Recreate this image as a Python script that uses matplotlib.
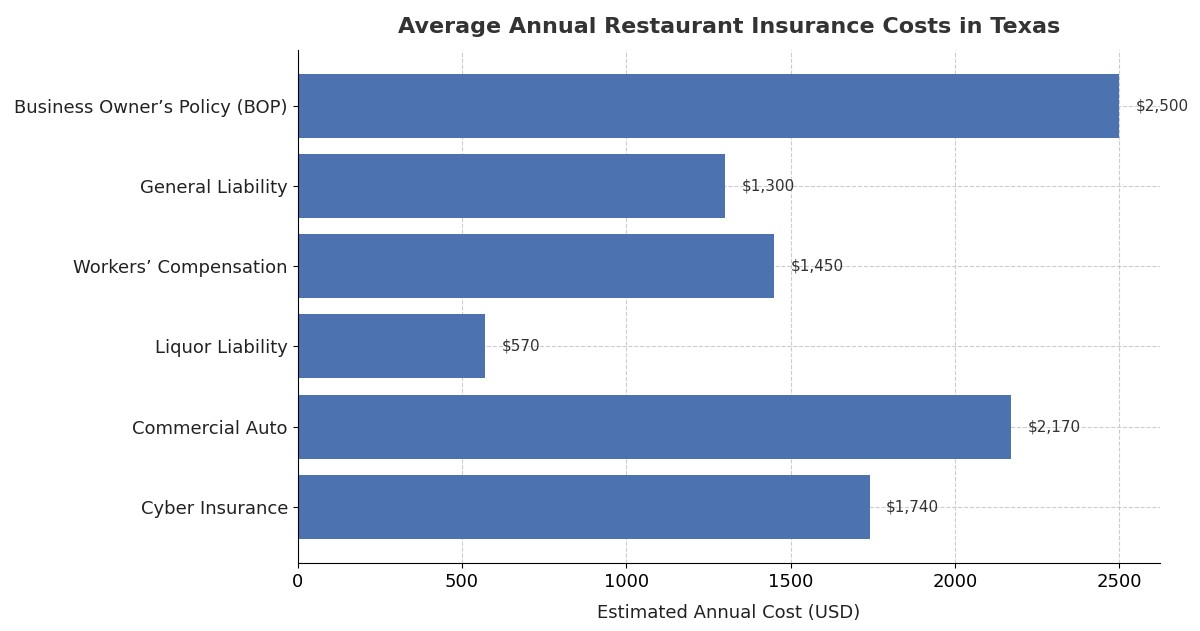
import matplotlib
matplotlib.use("Agg")
import matplotlib.pyplot as plt

categories = ["Business Owner’s Policy (BOP)", "General Liability", "Workers’ Compensation",
              "Liquor Liability", "Commercial Auto", "Cyber Insurance"]
costs = [2500, 1300, 1450, 570, 2170, 1740]

fig = plt.figure(figsize=(12, 6.31), dpi=100)
ax = fig.add_axes([0.248, 0.108, 0.719, 0.813])
y = list(range(len(categories)))
ax.barh(y, costs, height=0.8, color="#4c72b0", zorder=2)
for yi, v in zip(y, costs):
    ax.text(v + 50, yi, f"${v:,}", va="center", ha="left", fontsize=11, color="#333333")
ax.set_yticks(y)
ax.set_yticklabels(categories, fontsize=13, color="#222222")
ax.set_ylim(len(categories) - 0.3, -0.7)
ax.set_xlim(0, 2625)
ax.tick_params(axis="x", labelsize=13)
ax.set_xlabel("Estimated Annual Cost (USD)", fontsize=13, labelpad=10, color="#222222")
ax.set_title("Average Annual Restaurant Insurance Costs in Texas", fontsize=16,
             fontweight="bold", color="#333333", pad=12)
ax.grid(True, linestyle="--", color="#cccccc", linewidth=0.8, zorder=0)
ax.set_axisbelow(True)
ax.spines["top"].set_visible(False)
ax.spines["right"].set_visible(False)
fig.savefig("out.png", dpi=100)
